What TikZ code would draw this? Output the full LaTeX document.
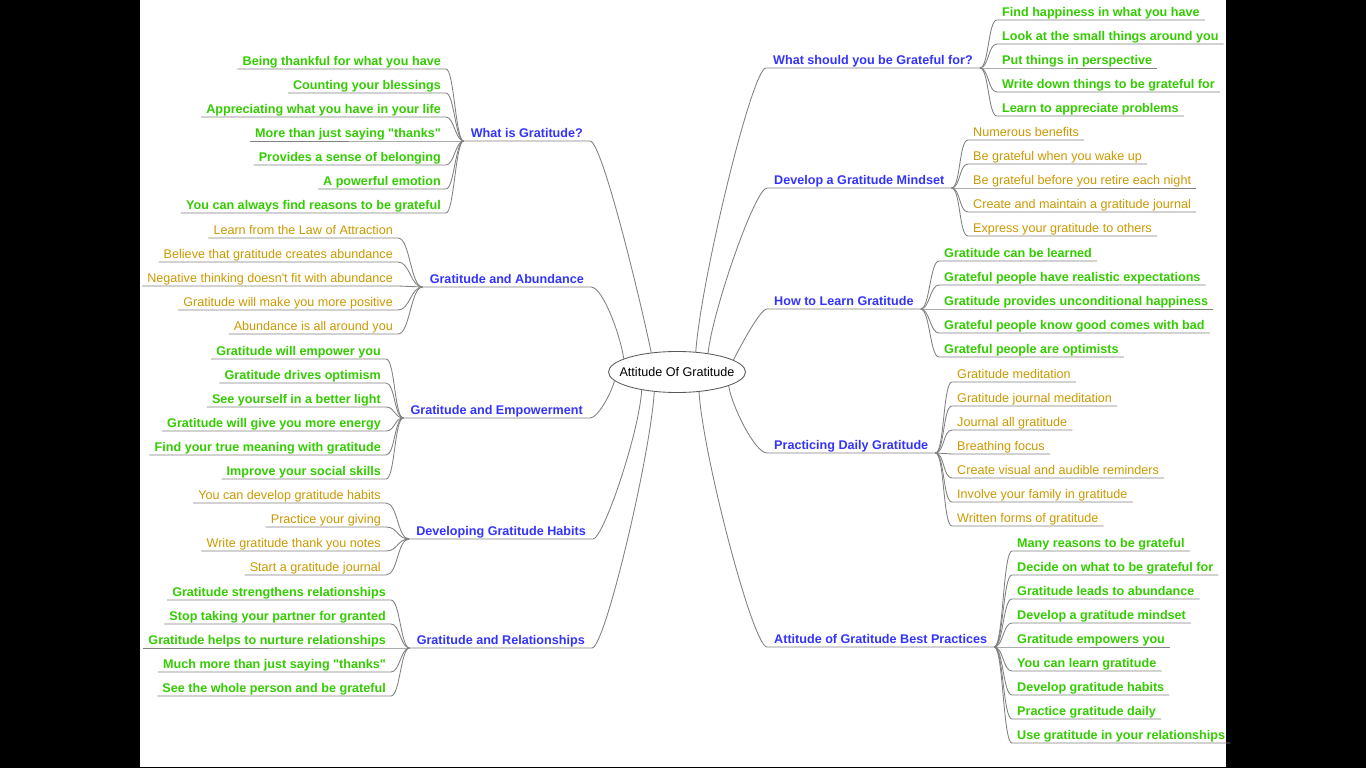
\documentclass[tikz,border=0pt]{standalone}
\usepackage{fontspec}
\usepackage{xcolor}
\usepackage{tikz}
\usetikzlibrary{shapes}
\newfontfamily\mapfont{Liberation Sans}
\definecolor{leafgreen}{RGB}{51,204,0}
\definecolor{leafgold}{RGB}{204,153,0}
\definecolor{topicblue}{RGB}{51,51,255}
\definecolor{linegray}{RGB}{128,128,128}

\begin{document}
\begin{tikzpicture}[
            x=1pt, y=-1pt,
            every node/.style={font=\mapfont\fontsize{12.6}{14}\selectfont, inner xsep=5pt, inner ysep=1pt, text height=9.5pt, text depth=2.5pt},
            topic/.style={text=topicblue, font=\mapfont\fontsize{12.6}{14}\selectfont\bfseries, inner xsep=7pt},
            greenleaf/.style={text=leafgreen, font=\mapfont\fontsize{12.6}{14}\selectfont\bfseries},
            goldleaf/.style={text=leafgold},
            link/.style={draw=linegray, line width=0.85pt},
        ]
            \fill[black] (0,0) rectangle (1366,768);
            \fill[white] (140,0) rectangle (1226,767);

            \node[ellipse, draw=linegray!70!black, line width=0.85pt, inner sep=0pt, text depth=1pt, minimum width=137pt, minimum height=41pt] (root) at (677,372) {\makebox[0pt]{Attitude Of Gratitude}};

            \node[topic, anchor=south east] (wig) at (590,141) {What is Gratitude?};
            \node[topic, anchor=south east] (gab) at (591,287) {Gratitude and Abundance};
            \node[topic, anchor=south east] (gem) at (590,418) {Gratitude and Empowerment};
            \node[topic, anchor=south east] (gdh) at (593,539) {Developing Gratitude Habits};
            \node[topic, anchor=south east] (grel) at (592,648) {Gratitude and Relationships};
            \node[topic, anchor=south west] (wsg) at (766,68) {What should you be Grateful for?};
            \node[topic, anchor=south west] (dgm) at (767,188) {Develop a Gratitude Mindset};
            \node[topic, anchor=south west] (hlg) at (767,309) {How to Learn Gratitude};
            \node[topic, anchor=south west] (pdg) at (767,453) {Practicing Daily Gratitude};
            \node[topic, anchor=south west] (bp) at (767,647) {Attitude of Gratitude Best Practices};

            \draw[link] (root.143) .. controls +(-11,-53) and +(12,0) .. (wig.south east) -- (wig.south west);
            \draw[link] (root.166) .. controls +(-3,-22) and +(12,0) .. (gab.south east) -- (gab.south west);
            \draw[link] (root.188) .. controls +(-3,12) and +(8,0) .. (gem.south east) -- (gem.south west);
            \draw[link] (root.207) .. controls +(-3,45) and +(10,0) .. (gdh.south east) -- (gdh.south west);
            \draw[link] (root.221) .. controls +(-4,64) and +(13,0) .. (grel.south east) -- (grel.south west);
            \draw[link] (root.47) .. controls +(5,-71) and +(-14,0) .. (wsg.south west) -- (wsg.south east);
            \draw[link] (root.31) .. controls +(4,-41) and +(-12,0) .. (dgm.south west) -- (dgm.south east);
            \draw[link] (root.12) .. controls +(6,-12) and +(-7,0) .. (hlg.south west) -- (hlg.south east);
            \draw[link] (root.345) .. controls +(3,20) and +(-12,0) .. (pdg.south west) -- (pdg.south east);
            \draw[link] (root.318) .. controls +(4,64) and +(-14,0) .. (bp.south west) -- (bp.south east);

            \foreach \leaf [count=\i] in {Being thankful for what you have, Counting your blessings, Appreciating what you have in your life, More than just saying "thanks", Provides a sense of belonging, A powerful emotion, You can always find reasons to be grateful} {
                \node[greenleaf, anchor=south east] (wig\i) at (446,45+24*\i) {\leaf};
                \draw[link] (wig.south west) .. controls +(-8,0) and +(8,0) .. (wig\i.south east) -- (wig\i.south west);
            }
            \foreach \leaf [count=\i] in {Learn from the Law of Attraction, Believe that gratitude creates abundance, Negative thinking doesn't fit with abundance, Gratitude will make you more positive, Abundance is all around you} {
                \node[goldleaf, anchor=south east] (gab\i) at (398,214+24*\i) {\leaf};
                \draw[link] (gab.south west) .. controls +(-12,0) and +(12,0) .. (gab\i.south east) -- (gab\i.south west);
            }
            \foreach \leaf [count=\i] in {Gratitude will empower you, Gratitude drives optimism, See yourself in a better light, Gratitude will give you more energy, Find your true meaning with gratitude, Improve your social skills} {
                \node[greenleaf, anchor=south east] (gem\i) at (386,335+24*\i) {\leaf};
                \draw[link] (gem.south west) .. controls +(-9,0) and +(9,0) .. (gem\i.south east) -- (gem\i.south west);
            }
            \foreach \leaf [count=\i] in {You can develop gratitude habits, Practice your giving, Write gratitude thank you notes, Start a gratitude journal} {
                \node[goldleaf, anchor=south east] (gdh\i) at (386,479+24*\i) {\leaf};
                \draw[link] (gdh.south west) .. controls +(-12,0) and +(12,0) .. (gdh\i.south east) -- (gdh\i.south west);
            }
            \foreach \leaf [count=\i] in {Gratitude strengthens relationships, Stop taking your partner for granted, Gratitude helps to nurture relationships, Much more than just saying "thanks", See the whole person and be grateful} {
                \node[greenleaf, anchor=south east] (grel\i) at (391,576+24*\i) {\leaf};
                \draw[link] (grel.south west) .. controls +(-9,0) and +(9,0) .. (grel\i.south east) -- (grel\i.south west);
            }
            \foreach \leaf [count=\i] in {Find happiness in what you have, Look at the small things around you, Put things in perspective, Write down things to be grateful for, Learn to appreciate problems} {
                \node[greenleaf, anchor=south west] (wsg\i) at (997,-4+24*\i) {\leaf};
                \draw[link] (wsg.south east) .. controls +(9,0) and +(-9,0) .. (wsg\i.south west) -- (wsg\i.south east);
            }
            \foreach \leaf [count=\i] in {Numerous benefits, Be grateful when you wake up, Be grateful before you retire each night, Create and maintain a gratitude journal, Express your gratitude to others} {
                \node[goldleaf, anchor=south west] (dgm\i) at (968,116+24*\i) {\leaf};
                \draw[link] (dgm.south east) .. controls +(9,0) and +(-9,0) .. (dgm\i.south west) -- (dgm\i.south east);
            }
            \foreach \leaf [count=\i] in {Gratitude can be learned, Grateful people have realistic expectations, Gratitude provides unconditional happiness, Grateful people know good comes with bad, Grateful people are optimists} {
                \node[greenleaf, anchor=south west] (hlg\i) at (939,237+24*\i) {\leaf};
                \draw[link] (hlg.south east) .. controls +(9,0) and +(-9,0) .. (hlg\i.south west) -- (hlg\i.south east);
            }
            \foreach \leaf [count=\i] in {Gratitude meditation, Gratitude journal meditation, Journal all gratitude, Breathing focus, Create visual and audible reminders, Involve your family in gratitude, Written forms of gratitude} {
                \node[goldleaf, anchor=south west] (pdg\i) at (952,358+24*\i) {\leaf};
                \draw[link] (pdg.south east) .. controls +(9,0) and +(-9,0) .. (pdg\i.south west) -- (pdg\i.south east);
            }
            \foreach \leaf [count=\i] in {Many reasons to be grateful, Decide on what to be grateful for, Gratitude leads to abundance, Develop a gratitude mindset, Gratitude empowers you, You can learn gratitude, Develop gratitude habits, Practice gratitude daily, Use gratitude in your relationships} {
                \node[greenleaf, anchor=south west] (bp\i) at (1012,527+24*\i) {\leaf};
                \draw[link] (bp.south east) .. controls +(9,0) and +(-9,0) .. (bp\i.south west) -- (bp\i.south east);
            }
        \end{tikzpicture}
\end{document}
